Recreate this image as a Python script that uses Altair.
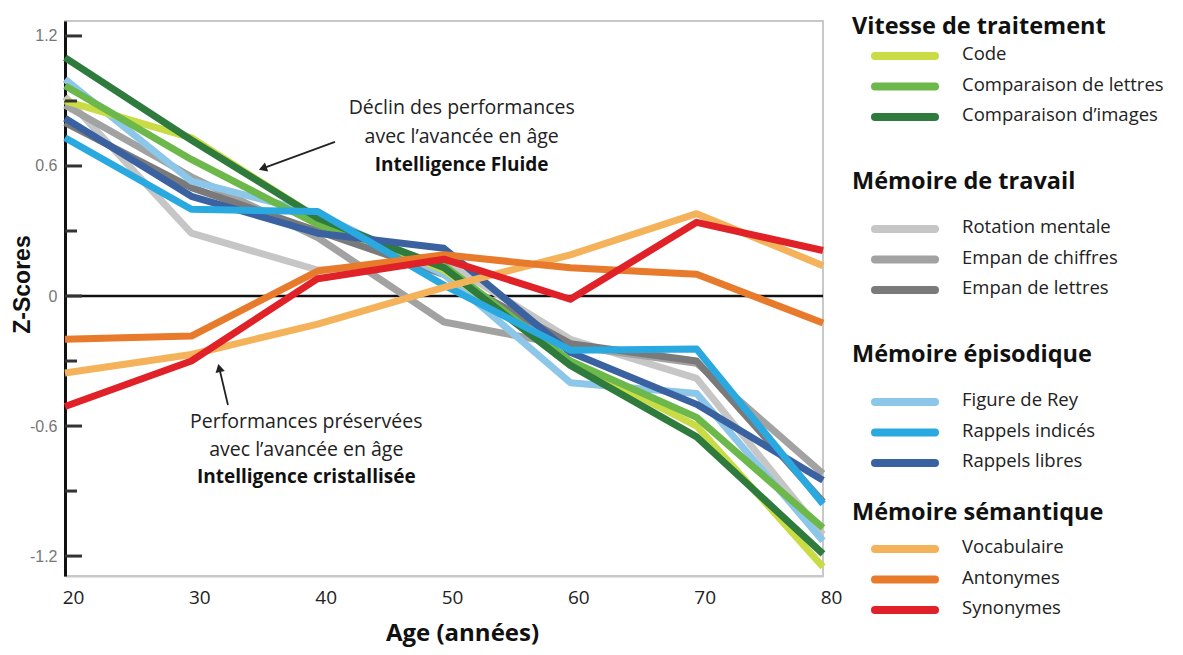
import altair as alt
import pandas as pd

ages = [20, 30, 40, 50, 60, 70, 80]

# z-scores, one list per test
code = [0.90, 0.73, 0.36, 0.12, -0.30, -0.60, -1.25]
comp_lettres = [0.97, 0.63, 0.33, 0.14, -0.30, -0.56, -1.07]
comp_images = [1.10, 0.72, 0.36, 0.13, -0.32, -0.65, -1.19]
rotation = [0.92, 0.29, 0.12, 0.16, -0.20, -0.38, -1.10]
empan_chiffres = [0.88, 0.55, 0.27, -0.12, -0.23, -0.31, -0.82]
empan_lettres = [0.80, 0.50, 0.30, 0.10, -0.22, -0.30, -0.95]
figure_rey = [1.00, 0.53, 0.38, 0.10, -0.40, -0.45, -1.13]
rappels_indices = [0.73, 0.40, 0.39, 0.05, -0.25, -0.245, -0.96]
rappels_libres = [0.82, 0.46, 0.29, 0.22, -0.26, -0.50, -0.85]
vocabulaire = [-0.355, -0.27, -0.13, 0.04, 0.19, 0.38, 0.14]
antonymes = [-0.20, -0.185, 0.115, 0.19, 0.13, 0.10, -0.125]
synonymes = [-0.51, -0.30, 0.08, 0.17, -0.015, 0.34, 0.21]

groups = ["Vitesse de traitement", "Mémoire de travail", "Mémoire épisodique", "Mémoire sémantique"]
group_items = [
    ["Code", "Comparaison de lettres", "Comparaison d\u2019images"],
    ["Rotation mentale", "Empan de chiffres", "Empan de lettres"],
    ["Figure de Rey", "Rappels indicés", "Rappels libres"],
    ["Vocabulaire", "Antonymes", "Synonymes"],
]
colors = {
    "Code": "#c9dc45",
    "Comparaison de lettres": "#6cb84a",
    "Comparaison d\u2019images": "#2e7b3d",
    "Rotation mentale": "#c6c6c6",
    "Empan de chiffres": "#a2a2a2",
    "Empan de lettres": "#7a7a7a",
    "Figure de Rey": "#8cc6e8",
    "Rappels indicés": "#2aa9e1",
    "Rappels libres": "#3b62a0",
    "Vocabulaire": "#f4b35a",
    "Antonymes": "#e87a2c",
    "Synonymes": "#e02128",
}
values = {
    "Code": code,
    "Comparaison de lettres": comp_lettres,
    "Comparaison d\u2019images": comp_images,
    "Rotation mentale": rotation,
    "Empan de chiffres": empan_chiffres,
    "Empan de lettres": empan_lettres,
    "Figure de Rey": figure_rey,
    "Rappels indicés": rappels_indices,
    "Rappels libres": rappels_libres,
    "Vocabulaire": vocabulaire,
    "Antonymes": antonymes,
    "Synonymes": synonymes,
}
# drawing order (bottom to top)
draw_order = ["Rotation mentale", "Empan de chiffres", "Empan de lettres", "Figure de Rey",
              "Code", "Comparaison de lettres", "Comparaison d\u2019images", "Rappels libres",
              "Rappels indicés", "Vocabulaire", "Antonymes", "Synonymes"]

major_ticks = [-1.2, -0.6, 0, 0.6, 1.2]
minor_ticks = [-0.9, -0.3, 0.3, 0.9]

rows = []
for k, name in enumerate(draw_order):
    for a, v in zip(ages, values[name]):
        rows.append({"age": a, "z": v, "test": name, "o": k})
df = pd.DataFrame(rows)

W, H = 758, 555
xscale = alt.Scale(domain=[20, 80], nice=False, zero=False)
yscale = alt.Scale(domain=[-1.292, 1.269], nice=False, zero=False)

ylabel = "datum.value == 0 ? '0' : (datum.value < 0 ? '-' + format(-datum.value, '.1f') : format(datum.value, '.1f'))"

lines = alt.Chart(df).mark_line(strokeWidth=7, strokeJoin="round").encode(
    x=alt.X("age:Q", scale=xscale, axis=alt.Axis(
        values=ages, title="Age (années)", grid=False, ticks=False,
        domainColor="#c8c8c8", domainWidth=2,
        labelFont="Open Sans", labelFontSize=19, labelColor="#222", labelPadding=12,
        labelOffset=8, labelOverlap=False, labelFlush=False,
        titleFont="Open Sans", titleFontSize=24, titleFontWeight="bold", titleColor="#111",
        titleX=397, titleY=57, titleBaseline="middle")),
    y=alt.Y("z:Q", scale=yscale, axis=alt.Axis(
        values=major_ticks, title="Z-Scores", grid=False, ticks=False,
        domainColor="#111", domainWidth=3,
        labelFont="Liberation Sans", labelFontSize=16, labelColor="#777", labelPadding=8,
        labelExpr=ylabel,
        titleFont="Liberation Sans", titleFontSize=23, titleFontWeight="bold", titleColor="#111",
        titleX=-43, titleY=263, titleBaseline="middle")),
    color=alt.Color("test:N", scale=alt.Scale(domain=list(colors.keys()), range=list(colors.values())), legend=None),
    detail="test:N",
    order="age:Q",
)

zero = alt.Chart(pd.DataFrame({"z": [0]})).mark_rule(color="#111", strokeWidth=2.5).encode(
    y=alt.Y("z:Q", scale=yscale))

tmaj = alt.Chart(pd.DataFrame({"z": major_ticks})).mark_rule(color="#333", strokeWidth=3).encode(
    y=alt.Y("z:Q", scale=yscale), x=alt.value(0), x2=alt.value(17))
tmin = alt.Chart(pd.DataFrame({"z": minor_ticks})).mark_rule(color="#333", strokeWidth=3).encode(
    y=alt.Y("z:Q", scale=yscale), x=alt.value(0), x2=alt.value(12))

# arrows (annotation)
arrows = pd.DataFrame({"x": [41.37, 32.90], "y": [0.711, -0.503], "x2": [35.65, 32.21], "y2": [0.589, -0.332]})
shafts = alt.Chart(arrows).mark_rule(color="#222", strokeWidth=1.8).encode(
    x=alt.X("x:Q", scale=xscale), y=alt.Y("y:Q", scale=yscale), x2="x2:Q", y2="y2:Q")
head1 = alt.Chart(pd.DataFrame({"x": [35.65], "y": [0.589]})).mark_point(
    shape="triangle-up", filled=True, size=90, color="#222", opacity=1, angle=250).encode(
    x=alt.X("x:Q", scale=xscale), y=alt.Y("y:Q", scale=yscale))
head2 = alt.Chart(pd.DataFrame({"x": [32.21], "y": [-0.332]})).mark_point(
    shape="triangle-up", filled=True, size=90, color="#222", opacity=1, angle=347).encode(
    x=alt.X("x:Q", scale=xscale), y=alt.Y("y:Q", scale=yscale))

ann_norm = pd.DataFrame({
    "x": [51.4, 51.4, 39.1, 39.1],
    "y": [0.868, 0.734, -0.582, -0.711],
    "t": ["Déclin des performances", "avec l\u2019avancée en âge",
          "Performances préservées", "avec l\u2019avancée en âge"],
})
ann_bold = pd.DataFrame({
    "x": [51.4, 39.1],
    "y": [0.605, -0.835],
    "t": ["Intelligence Fluide", "Intelligence cristallisée"],
})
tnorm = alt.Chart(ann_norm).mark_text(font="Open Sans", fontSize=19.5, color="#222", baseline="middle").encode(
    x=alt.X("x:Q", scale=xscale), y=alt.Y("y:Q", scale=yscale), text="t:N")
tbold = alt.Chart(ann_bold).mark_text(font="Open Sans", fontSize=19, fontWeight="bold", color="#111", baseline="middle").encode(
    x=alt.X("x:Q", scale=xscale), y=alt.Y("y:Q", scale=yscale), text="t:N")

# manual grouped legend (pixel layout to the right of the plot)
title_y = [6, 161, 334, 492]
first_gap = [27, 45, 45, 34]
legend_layers = []
for g, items, ty, gap in zip(groups, group_items, title_y, first_gap):
    legend_layers.append(
        alt.Chart(pd.DataFrame({"t": [g]})).mark_text(
            font="Open Sans", fontSize=23.5, fontWeight="bold", color="#111", align="left", baseline="middle"
        ).encode(x=alt.value(787), y=alt.value(ty), text="t:N"))
    for i, name in enumerate(items):
        ly = ty + gap + i * 30.5
        legend_layers.append(
            alt.Chart(pd.DataFrame({"t": [name]})).mark_rule(
                color=colors[name], strokeWidth=8, strokeCap="round"
            ).encode(x=alt.value(810), x2=alt.value(870), y=alt.value(ly + 2)))
        legend_layers.append(
            alt.Chart(pd.DataFrame({"t": [name]})).mark_text(
                font="Open Sans", fontSize=18.5, color="#222", align="left", baseline="middle"
            ).encode(x=alt.value(897), y=alt.value(ly), text="t:N"))

chart = alt.layer(zero, lines, tmaj, tmin, shafts, head1, head2, tnorm, tbold, *legend_layers).properties(
    width=W, height=H,
    autosize=alt.AutoSizeParams(type="none"),
    padding={"left": 57, "top": 13, "right": 350, "bottom": 72},
).configure_view(stroke="#c8c8c8", strokeWidth=2)

chart.save("out.html", embed_options={"renderer": "svg", "actions": False})
